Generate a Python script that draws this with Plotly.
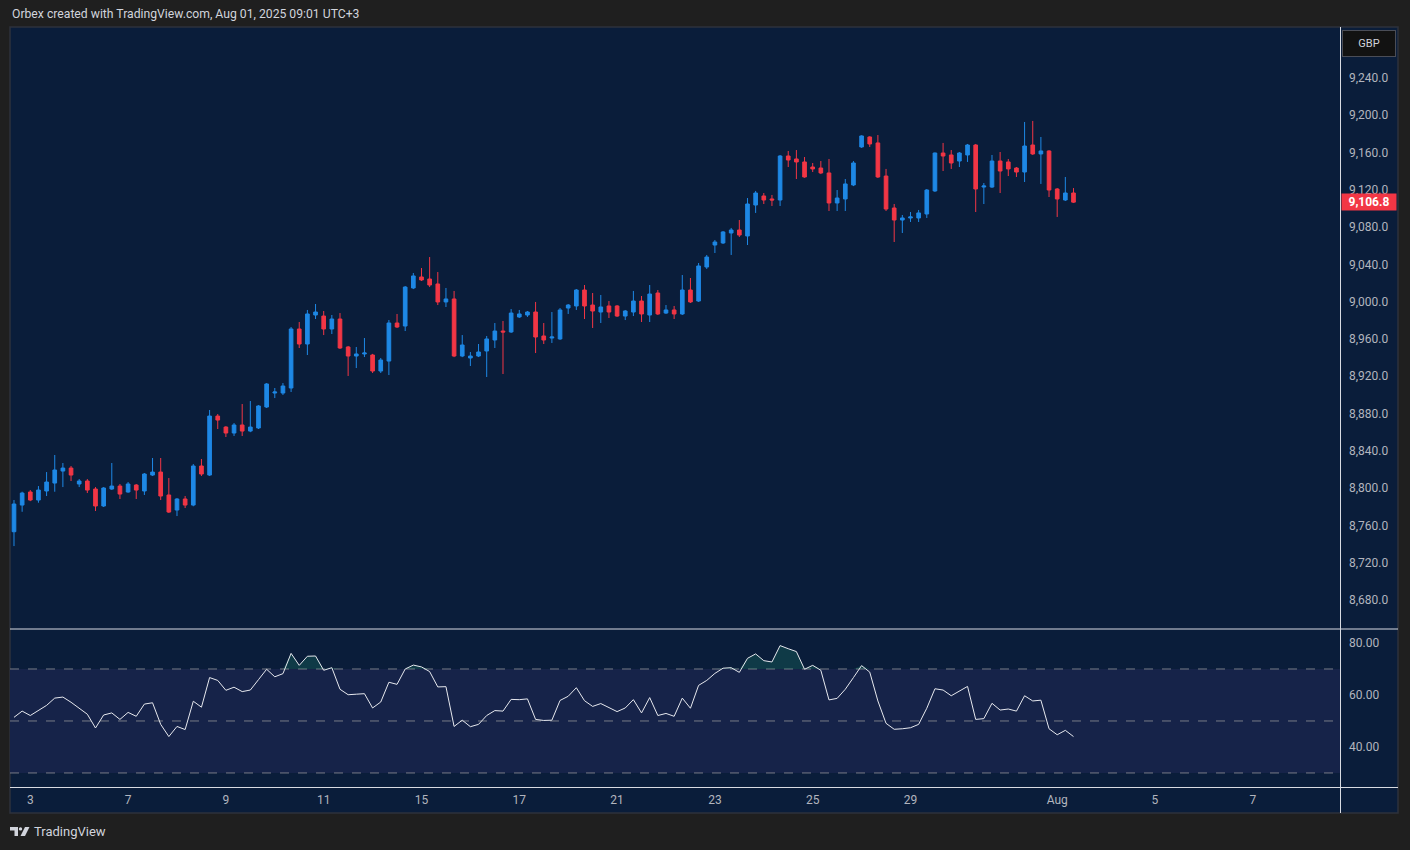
import plotly.graph_objects as go
from datetime import date, timedelta

# ---------------- data (4H candles, UK100 / GBP) ----------------
opens = [8753.2, 8781.8, 8795.8, 8787.2, 8796.9, 8805.4, 8818.3, 8821.5, 8804.4, 8807.6,
         8799.0, 8780.8, 8799.0, 8802.2, 8795.8, 8803.3, 8796.9, 8814.0, 8817.2, 8792.6,
         8776.5, 8788.3, 8781.8, 8823.7, 8814.0, 8877.3, 8865.5, 8859.1, 8867.7, 8861.2,
         8864.5, 8887.0, 8902.0, 8902.0, 8907.4, 8970.7, 8954.6, 8985.7, 8984.6, 8970.7,
         8981.4, 8951.4, 8941.7, 8943.9, 8942.8, 8925.6, 8936.3, 8977.1, 8973.9, 9014.7,
         9026.5, 9024.3, 9019.0, 8999.7, 9002.9, 8941.7, 8939.6, 8941.7, 8947.1, 8958.9,
         8968.5, 8967.5, 8983.6, 8985.7, 8988.9, 8963.2, 8961.0, 8960.0, 8993.2, 8995.4,
         9012.5, 8996.4, 8988.9, 8995.4, 8995.4, 8984.6, 8988.9, 9000.7, 8985.7, 9009.3,
         8987.8, 8991.1, 8986.8, 9012.5, 9000.7, 9037.2, 9060.8, 9063.0, 9073.7, 9076.9,
         9070.5, 9103.7, 9113.4, 9110.2, 9109.1, 9156.3, 9153.1, 9149.9, 9144.5, 9143.4,
         9138.1, 9105.9, 9110.2, 9125.2, 9166.0, 9176.7, 9170.3, 9134.8, 9100.5, 9087.6,
         9089.8, 9089.8, 9094.1, 9118.8, 9159.5, 9157.4, 9150.9, 9157.4, 9168.1, 9123.0,
         9123.0, 9150.9, 9149.9, 9143.4, 9139.1, 9168.1, 9158.5, 9161.7, 9120.9, 9109.1,
         9116.6]
highs = [8787.2, 8796.1, 8797.9, 8802.2, 8817.2, 8835.5, 8826.9, 8823.7, 8809.7, 8809.7,
         8801.1, 8801.1, 8826.9, 8804.4, 8806.5, 8804.4, 8816.2, 8832.3, 8832.3, 8810.8,
         8789.3, 8791.5, 8825.8, 8831.2, 8883.8, 8879.5, 8866.5, 8869.8, 8890.2, 8893.4,
         8889.0, 8912.7, 8907.4, 8912.7, 8972.8, 8978.2, 8991.1, 8997.5, 8990.0, 8985.7,
         8987.8, 8952.5, 8951.4, 8961.0, 8944.0, 8939.6, 8980.3, 8986.8, 9016.8, 9030.8,
         9036.1, 9047.9, 9031.8, 9014.7, 9011.5, 8964.2, 8946.0, 8954.6, 8963.2, 8977.1,
         8979.3, 8992.1, 8991.1, 8990.0, 8999.7, 8977.1, 8988.9, 8993.2, 8997.5, 9013.6,
         9017.9, 9009.3, 9007.2, 9000.7, 8996.4, 8991.1, 9011.5, 9006.1, 9017.9, 9012.5,
         8996.4, 8995.4, 9028.6, 9025.4, 9041.5, 9050.1, 9066.2, 9075.8, 9079.1, 9087.6,
         9111.2, 9118.8, 9116.6, 9114.5, 9157.4, 9161.7, 9162.7, 9155.2, 9148.8, 9150.9,
         9153.1, 9119.8, 9131.6, 9150.9, 9178.5, 9177.5, 9178.8, 9142.4, 9104.8, 9093.0,
         9096.2, 9098.4, 9120.9, 9160.0, 9170.3, 9162.7, 9160.6, 9169.2, 9169.2, 9127.3,
         9157.4, 9160.6, 9153.1, 9144.5, 9192.8, 9193.9, 9176.7, 9162.5, 9121.9, 9133.8,
         9121.9]
lows = [8737.8, 8774.6, 8786.0, 8784.3, 8791.5, 8796.1, 8801.1, 8807.6, 8801.1, 8794.7,
        8775.4, 8779.7, 8798.0, 8788.3, 8795.0, 8788.3, 8792.6, 8813.0, 8787.2, 8773.3,
        8770.0, 8778.6, 8780.5, 8813.0, 8813.0, 8863.4, 8854.8, 8855.9, 8855.9, 8860.0,
        8863.4, 8885.9, 8896.6, 8899.9, 8903.1, 8950.3, 8942.8, 8981.4, 8964.2, 8965.3,
        8949.2, 8920.3, 8928.8, 8940.6, 8923.5, 8923.5, 8921.3, 8971.8, 8968.5, 9013.5,
        9022.2, 9015.7, 8996.4, 8994.3, 8940.5, 8940.5, 8931.0, 8940.6, 8919.2, 8950.3,
        8922.4, 8966.5, 8982.5, 8983.6, 8944.9, 8954.6, 8955.7, 8959.0, 8986.8, 8991.1,
        8981.4, 8971.8, 8977.1, 8982.5, 8983.6, 8980.3, 8984.6, 8978.2, 8978.2, 8985.7,
        8986.8, 8981.4, 8985.7, 8998.6, 8999.7, 9035.1, 9052.2, 9061.9, 9050.1, 9069.4,
        9060.8, 9095.2, 9104.8, 9102.7, 9102.7, 9144.5, 9131.6, 9133.0, 9139.1, 9136.9,
        9097.3, 9097.3, 9097.3, 9124.0, 9165.0, 9166.0, 9132.7, 9097.3, 9064.0, 9073.7,
        9085.5, 9085.5, 9089.8, 9117.7, 9140.2, 9142.4, 9144.5, 9149.9, 9096.2, 9104.8,
        9122.0, 9116.6, 9134.8, 9133.8, 9128.4, 9157.4, 9126.3, 9112.3, 9090.9, 9108.0,
        9106.0]
closes = [8782.9, 8794.7, 8787.2, 8797.9, 8806.5, 8819.4, 8821.5, 8814.0, 8807.6, 8797.9,
          8780.8, 8800.1, 8802.2, 8793.6, 8804.4, 8797.9, 8815.1, 8817.2, 8791.5, 8774.3,
          8788.3, 8781.8, 8823.7, 8815.1, 8877.3, 8873.0, 8859.1, 8867.7, 8861.2, 8865.5,
          8888.1, 8911.7, 8903.1, 8909.5, 8970.7, 8954.6, 8986.8, 8988.9, 8970.7, 8981.4,
          8950.3, 8941.7, 8943.9, 8944.9, 8925.6, 8937.4, 8977.1, 8972.8, 9015.7, 9027.6,
          9023.3, 9017.9, 8999.7, 9002.9, 8941.7, 8953.5, 8941.7, 8946.0, 8960.0, 8968.5,
          8967.5, 8987.8, 8986.8, 8988.9, 8962.1, 8958.9, 8962.1, 8991.1, 8996.4, 9012.5,
          8995.4, 8990.0, 8994.3, 8988.9, 8984.6, 8990.0, 9000.7, 8986.8, 9008.2, 8986.8,
          8991.1, 8986.8, 9012.5, 8999.7, 9038.3, 9047.9, 9064.0, 9074.8, 9076.9, 9071.5,
          9104.8, 9116.6, 9109.1, 9109.1, 9156.3, 9152.0, 9149.9, 9133.8, 9142.4, 9138.1,
          9105.9, 9111.2, 9126.3, 9148.8, 9177.8, 9169.2, 9133.8, 9099.4, 9087.6, 9089.8,
          9090.9, 9095.2, 9119.8, 9159.5, 9156.3, 9148.8, 9159.5, 9168.1, 9120.9, 9124.1,
          9150.9, 9140.2, 9142.4, 9139.1, 9167.0, 9158.5, 9161.7, 9119.8, 9110.2, 9116.6,
          9106.8]
rsi = [51.4, 53.8, 52.1, 54.2, 56.0, 58.8, 59.2, 57.2, 54.9, 52.6,
       47.3, 52.3, 53.1, 50.6, 53.3, 51.8, 56.5, 57.0, 48.7, 44.0,
       47.9, 46.7, 57.6, 55.3, 66.7, 65.6, 61.8, 63.0, 61.3, 61.9,
       65.9, 69.9, 67.0, 68.2, 76.0, 71.4, 74.9, 75.0, 69.5, 70.5,
       62.2, 60.1, 60.3, 60.5, 55.0, 57.3, 64.9, 64.1, 70.0, 71.5,
       70.8, 69.0, 63.1, 63.2, 47.9, 50.3, 47.8, 48.7, 52.1, 54.0,
       53.8, 58.3, 58.2, 58.5, 50.6, 50.2, 50.3, 57.9, 59.5, 62.8,
       57.8, 55.6, 56.7, 55.1, 53.6, 55.0, 58.2, 53.1, 59.0, 52.1,
       52.9, 51.8, 58.8, 54.9, 63.7, 65.6, 68.3, 70.3, 70.5, 68.7,
       74.1, 75.8, 73.2, 72.7, 79.0, 77.8, 76.7, 69.9, 71.4, 69.5,
       58.1, 58.7, 62.2, 66.7, 71.3, 68.8, 57.7, 49.1, 46.8, 47.0,
       47.4, 48.7, 54.9, 62.4, 61.9, 59.7, 61.5, 63.3, 50.6, 50.9,
       56.8, 54.2, 54.6, 53.8, 59.7, 57.7, 58.0, 47.0, 44.7, 46.4,
       44.0]
last_price = 9106.8
price_ticks = [8680, 8720, 8760, 8800, 8840, 8880, 8920, 8960, 9000,
               9040, 9080, 9120, 9160, 9200, 9240]
rsi_ticks = [40, 60, 80]
rsi_levels = [70, 50, 30]
tick_days = ["2025-07-03", "2025-07-07", "2025-07-09", "2025-07-11", "2025-07-15",
             "2025-07-17", "2025-07-21", "2025-07-23", "2025-07-25", "2025-07-29",
             "2025-08-01", "2025-08-05", "2025-08-07"]
tick_labels = ["3", "7", "9", "11", "15", "17", "21", "23", "25", "29", "Aug", "5", "7"]
bar_hours = [0, 4, 8, 12, 16, 20]
first_bar = ("2025-07-02", 16)

# ---------------- timeline of 4H bars on trading days ----------------
bars = []
d = date(2025, 7, 1)
while d <= date(2025, 8, 12):
    if d.weekday() < 5:
        for h in bar_hours:
            bars.append((d.isoformat(), h))
    d += timedelta(days=1)
i0 = bars.index(first_bar)
n = len(closes)
x = list(range(n))
tickvals = [bars.index((t, 0)) - i0 for t in tick_days]

# ---------------- styling ----------------
W, H = 1410, 850
BLUE = "#1e88e5"
RED = "#f23645"
NAVY = "#0a1d3a"
BAND = "#162349"
OUTER = "#1f1f1f"
TXT = "#b2b5be"
FONT = "Roboto"


def px(v):
    return v / W


def py(v):
    return 1 - v / H


fig = go.Figure()
fig.add_trace(go.Candlestick(
    x=x, open=opens, high=highs, low=lows, close=closes,
    xaxis="x", yaxis="y",
    increasing=dict(line=dict(color=BLUE, width=1), fillcolor=BLUE),
    decreasing=dict(line=dict(color=RED, width=1), fillcolor=RED),
    whiskerwidth=0, showlegend=False, hoverinfo="skip"))

# RSI overbought fill
fig.add_trace(go.Scatter(x=x, y=[70] * n, xaxis="x2", yaxis="y2", mode="lines",
                         line=dict(width=0), showlegend=False, hoverinfo="skip"))
fig.add_trace(go.Scatter(x=x, y=[max(r, 70) for r in rsi], xaxis="x2", yaxis="y2",
                         mode="lines", line=dict(width=0), fill="tonexty",
                         fillcolor="rgba(38,166,120,0.22)", showlegend=False,
                         hoverinfo="skip"))
fig.add_trace(go.Scatter(x=x, y=rsi, xaxis="x2", yaxis="y2", mode="lines",
                         line=dict(color="#e6e8ee", width=1), showlegend=False,
                         hoverinfo="skip"))

xr = [-0.49, 162.7]
dom_x = [px(10), px(1340)]
fig.update_layout(
    width=W, height=H, margin=dict(l=0, r=0, t=0, b=0),
    paper_bgcolor=OUTER, plot_bgcolor="rgba(0,0,0,0)",
    boxgap=0.36,
    font=dict(family=FONT, color=TXT, size=12),
    xaxis=dict(domain=dom_x, range=xr, anchor="y", showticklabels=False,
               showgrid=False, zeroline=False, rangeslider=dict(visible=False),
               fixedrange=True),
    yaxis=dict(domain=[py(628), py(27)], range=[8649.9, 9294.7], side="right",
               anchor="x", tickvals=price_ticks, tickformat=",.1f",
               tickfont=dict(size=12, color=TXT), showgrid=False,
               zeroline=False, ticks="", ticklabelstandoff=8),
    xaxis2=dict(domain=dom_x, range=xr, anchor="y2", matches="x",
                tickvals=tickvals, ticktext=tick_labels,
                tickfont=dict(size=12, color=TXT), showgrid=False,
                zeroline=False, ticks="", ticklabelstandoff=4),
    yaxis2=dict(domain=[py(787), py(630)], range=[24.6, 85.0], side="right",
                anchor="x2", tickvals=rsi_ticks, tickformat=".2f",
                tickfont=dict(size=12, color=TXT), showgrid=False,
                zeroline=False, ticks="", ticklabelstandoff=8),
)

shapes = []
# chart panel
shapes.append(dict(type="rect", xref="paper", yref="paper", x0=px(10), x1=px(1398),
                   y0=py(813), y1=py(27), fillcolor=NAVY,
                   line=dict(color="#2e323c", width=1.5), layer="below"))
# RSI band
shapes.append(dict(type="rect", xref="paper", yref="y2", x0=px(10), x1=px(1340),
                   y0=rsi_levels[2], y1=rsi_levels[0], fillcolor=BAND,
                   line=dict(width=0), layer="below"))
for lv in rsi_levels:
    shapes.append(dict(type="line", xref="paper", yref="y2", x0=px(10), x1=px(1340),
                       y0=lv, y1=lv, line=dict(color="#787b86", width=1, dash="dash"),
                       layer="below"))
# separators
shapes.append(dict(type="line", xref="paper", yref="paper", x0=px(10), x1=px(1398),
                   y0=py(629), y1=py(629), line=dict(color="#d8dbe2", width=1)))
shapes.append(dict(type="line", xref="paper", yref="paper", x0=px(10), x1=px(1398),
                   y0=py(787.5), y1=py(787.5), line=dict(color="#d8dbe2", width=1)))
shapes.append(dict(type="line", xref="paper", yref="paper", x0=px(1340.5), x1=px(1340.5),
                   y0=py(813), y1=py(27), line=dict(color="#d8dbe2", width=1)))
# TradingView logo glyph
logo = "#d1d4dc"
shapes.append(dict(type="path", xref="paper", yref="paper",
                   path=(f"M {px(10)},{py(827)} L {px(18)},{py(827)} L {px(18)},{py(836)} "
                         f"L {px(14.5)},{py(836)} L {px(14.5)},{py(830.5)} L {px(10)},{py(830.5)} Z"),
                   fillcolor=logo, line=dict(width=0)))
shapes.append(dict(type="circle", xref="paper", yref="paper",
                   x0=px(18.8), x1=px(22.2), y0=py(830.6), y1=py(827.2), fillcolor=logo,
                   line=dict(width=0)))
shapes.append(dict(type="path", xref="paper", yref="paper",
                   path=(f"M {px(25)},{py(827)} L {px(29.5)},{py(827)} L {px(25)},{py(836)} "
                         f"L {px(20.5)},{py(836)} Z"),
                   fillcolor=logo, line=dict(width=0)))
fig.update_layout(shapes=shapes)

annotations = [
    dict(xref="paper", yref="paper", x=px(10), y=py(14), xanchor="left", yanchor="middle",
         text="Orbex created with TradingView.com, Aug 01, 2025 09:01 UTC+3",
         showarrow=False, font=dict(family=FONT, size=12.2, color="#d1d4dc")),
    dict(xref="paper", yref="paper", x=px(1369), y=py(44), xanchor="center",
         yanchor="middle", text="GBP", showarrow=False, bgcolor="#121212",
         bordercolor="#4a4d57", borderwidth=1, borderpad=6, width=40,
         font=dict(family=FONT, size=11, color="#d1d4dc")),
    dict(xref="paper", yref="y", x=px(1341), y=last_price, xanchor="left",
         yanchor="middle", text="<b>" + f"{last_price:,.1f}" + "</b>", showarrow=False,
         bgcolor=RED, borderpad=1, width=52, height=14,
         font=dict(family=FONT, size=12, color="#ffffff")),
    dict(xref="paper", yref="paper", x=px(32), y=py(831.5), xanchor="left",
         yanchor="middle", text="TradingView", showarrow=False,
         font=dict(family=FONT, size=13, color="#d1d4dc")),
]
fig.update_layout(annotations=annotations)

fig.write_html("out.html", config={"displayModeBar": False}, post_script=(
    "document.body.style.margin='0';document.body.style.padding='0';"
    "document.body.style.background='#1f1f1f';document.body.style.overflow='hidden';"))
